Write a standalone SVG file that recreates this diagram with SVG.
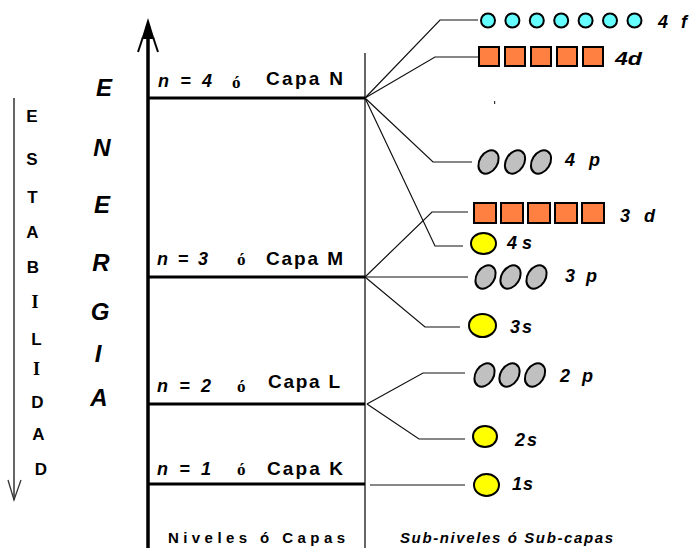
<svg xmlns="http://www.w3.org/2000/svg" width="696" height="548" viewBox="0 0 696 548">
<style>
.lvl{stroke:#000;stroke-width:3;fill:none}
.con{stroke:#111;stroke-width:1.2;fill:none}
.f{fill:#66FFFF;stroke:#000;stroke-width:2}
.d{fill:#FF8040;stroke:#000;stroke-width:2}
.p{fill:#C0C0C0;stroke:#000;stroke-width:2}
.s{fill:#FFFF00;stroke:#000;stroke-width:2}
.en{font-family:"Liberation Sans",Arial,sans-serif;font-weight:bold;font-style:italic;font-size:24px;text-anchor:middle}
.st{font-family:"Liberation Sans",Arial,sans-serif;font-weight:bold;font-size:17px;text-anchor:middle}
.sti{font-family:"Liberation Serif","Times New Roman",serif;font-weight:bold;font-size:18px;text-anchor:middle}
.n{font-family:"Liberation Sans",Arial,sans-serif;font-weight:bold;font-style:italic;font-size:18px}
.o{font-family:"Liberation Serif","Times New Roman",serif;font-weight:bold;font-size:17px}
.cap{font-family:"Liberation Sans",Arial,sans-serif;font-weight:bold;font-size:19px}
.sl{font-family:"Liberation Sans",Arial,sans-serif;font-weight:bold;font-style:italic;font-size:18px}
.bt{font-family:"Liberation Sans",Arial,sans-serif;font-weight:bold;font-size:15px}
.bti{font-family:"Liberation Sans",Arial,sans-serif;font-weight:bold;font-style:italic;font-size:15px}
</style>

<g id="axis-energia">
<line x1="148" y1="36" x2="148" y2="548" stroke="#000" stroke-width="3.5"/>
<polygon points="148,18 141.5,39 154.5,39" fill="#000"/>
<line x1="143" y1="37" x2="138" y2="52" stroke="#000" stroke-width="2"/>
<line x1="153" y1="37" x2="158" y2="52" stroke="#000" stroke-width="2"/>
<text class="en" x="104" y="96">E</text>
<text class="en" x="102" y="156">N</text>
<text class="en" x="102" y="213">E</text>
<text class="en" x="101" y="271">R</text>
<text class="en" x="100" y="320">G</text>
<text class="en" x="98" y="362">I</text>
<text class="en" x="99" y="406">A</text>
</g>

<g id="axis-estabilidad">
<line x1="14" y1="98" x2="14" y2="500" stroke="#333" stroke-width="1.5"/>
<polyline points="8,480 14,500 21,480" fill="none" stroke="#333" stroke-width="1.3"/>
<text class="st" x="32" y="122">E</text>
<text class="st" x="32" y="165">S</text>
<text class="st" x="32.5" y="203">T</text>
<text class="st" x="32.5" y="238">A</text>
<text class="st" x="33" y="273">B</text>
<text class="sti" x="35" y="308">I</text>
<text class="st" x="36.5" y="345">L</text>
<text class="sti" x="36.5" y="375">I</text>
<text class="st" x="37.5" y="408">D</text>
<text class="st" x="38.5" y="440">A</text>
<text class="st" x="41" y="475">D</text>
</g>

<line id="divider" x1="365" y1="53" x2="365" y2="548" stroke="#333" stroke-width="1.5"/>

<g id="level-N">
<line class="lvl" x1="148" y1="98" x2="365" y2="98"/>
<text class="n" x="158" y="87" textLength="54" lengthAdjust="spacing">n = 4</text>
<text class="o" x="232" y="88">ó</text>
<text class="cap" x="266" y="85" textLength="77" lengthAdjust="spacing">Capa N</text>
</g>
<g id="level-M">
<line class="lvl" x1="148" y1="277" x2="365" y2="277"/>
<text class="n" x="157" y="265" textLength="51" lengthAdjust="spacing">n = 3</text>
<text class="o" x="237" y="265">ó</text>
<text class="cap" x="266" y="265" textLength="77" lengthAdjust="spacing">Capa M</text>
</g>
<g id="level-L">
<line class="lvl" x1="148" y1="404" x2="365" y2="404"/>
<text class="n" x="157" y="392" textLength="54" lengthAdjust="spacing">n = 2</text>
<text class="o" x="237" y="392">ó</text>
<text class="cap" x="268" y="388" textLength="72" lengthAdjust="spacing">Capa L</text>
</g>
<g id="level-K">
<line class="lvl" x1="148" y1="484" x2="365" y2="484"/>
<text class="n" x="157" y="475" textLength="54" lengthAdjust="spacing">n = 1</text>
<text class="o" x="237" y="475">ó</text>
<text class="cap" x="267" y="475" textLength="76" lengthAdjust="spacing">Capa K</text>
</g>

<g id="connectors">
<polyline class="con" points="365,98 440,20 478,20"/>
<polyline class="con" points="365,98 435,57 478,57"/>
<polyline class="con" points="365,98 433,162 472,162"/>
<polyline class="con" points="365,98 435,246 463,246"/>
<polyline class="con" points="365,277 432,212 468,212"/>
<polyline class="con" points="365,277 468,277"/>
<polyline class="con" points="365,277 425,327 460,327"/>
<polyline class="con" points="367,404 423,373 465,373"/>
<polyline class="con" points="367,404 419,439 465,439"/>
<polyline class="con" points="370,485 465,485"/>
</g>

<g id="sub-4f">
<circle class="f" cx="488" cy="20.5" r="7"/>
<circle class="f" cx="512.4" cy="20.5" r="7"/>
<circle class="f" cx="536.8" cy="20.5" r="7"/>
<circle class="f" cx="561.2" cy="20.5" r="7"/>
<circle class="f" cx="585.6" cy="20.5" r="7"/>
<circle class="f" cx="610" cy="20.5" r="7"/>
<circle class="f" cx="634.5" cy="20.5" r="7"/>
<text class="sl" x="658" y="28" textLength="29" lengthAdjust="spacing">4 f</text>
</g>
<g id="sub-4d">
<rect class="d" x="479" y="47" width="20" height="19"/>
<rect class="d" x="505" y="47" width="20" height="19"/>
<rect class="d" x="531" y="47" width="20" height="19"/>
<rect class="d" x="557" y="47" width="20" height="19"/>
<rect class="d" x="583" y="47" width="20" height="19"/>
<text class="sl" x="615" y="65" style="font-size:19px" textLength="27" lengthAdjust="spacingAndGlyphs">4d</text>
</g>
<rect id="dot" x="494" y="101" width="1.2" height="3" fill="#333"/>
<g id="sub-4p">
<ellipse class="p" cx="488.5" cy="162" rx="9" ry="12.5" transform="rotate(32 488.5 162)"/>
<ellipse class="p" cx="515" cy="162" rx="9" ry="12.5" transform="rotate(32 515 162)"/>
<ellipse class="p" cx="541" cy="162" rx="9" ry="12.5" transform="rotate(32 541 162)"/>
<text class="sl" x="565" y="166" textLength="35" lengthAdjust="spacing">4 p</text>
</g>
<g id="sub-3d">
<rect class="d" x="474" y="203" width="22" height="20"/>
<rect class="d" x="501" y="203" width="22" height="20"/>
<rect class="d" x="528" y="203" width="22" height="20"/>
<rect class="d" x="555" y="203" width="22" height="20"/>
<rect class="d" x="582" y="203" width="22" height="20"/>
<text class="sl" x="620" y="222" textLength="35" lengthAdjust="spacing">3 d</text>
</g>
<g id="sub-4s">
<ellipse class="s" cx="483.5" cy="243.5" rx="12.5" ry="10.5"/>
<text class="sl" x="507" y="249" textLength="25" lengthAdjust="spacing">4s</text>
</g>
<g id="sub-3p">
<ellipse class="p" cx="485.5" cy="277" rx="9" ry="12.5" transform="rotate(32 485.5 277)"/>
<ellipse class="p" cx="510.5" cy="277" rx="9" ry="12.5" transform="rotate(32 510.5 277)"/>
<ellipse class="p" cx="536.5" cy="277" rx="9" ry="12.5" transform="rotate(32 536.5 277)"/>
<text class="sl" x="565" y="282" textLength="32" lengthAdjust="spacing">3 p</text>
</g>
<g id="sub-3s">
<ellipse class="s" cx="482.5" cy="325.5" rx="13.5" ry="11.5"/>
<text class="sl" x="510" y="333" textLength="22" lengthAdjust="spacing">3s</text>
</g>
<g id="sub-2p">
<ellipse class="p" cx="484.5" cy="375" rx="9" ry="12.5" transform="rotate(32 484.5 375)"/>
<ellipse class="p" cx="509.5" cy="375" rx="9" ry="12.5" transform="rotate(32 509.5 375)"/>
<ellipse class="p" cx="535" cy="375" rx="9" ry="12.5" transform="rotate(32 535 375)"/>
<text class="sl" x="560" y="382" textLength="33" lengthAdjust="spacing">2 p</text>
</g>
<g id="sub-2s">
<ellipse class="s" cx="485" cy="436.5" rx="12" ry="10.5"/>
<text class="sl" x="515" y="446" textLength="22" lengthAdjust="spacing">2s</text>
</g>
<g id="sub-1s">
<ellipse class="s" cx="486.5" cy="485" rx="12.5" ry="11"/>
<text class="sl" x="512" y="490" textLength="21" lengthAdjust="spacing">1s</text>
</g>

<g id="footer">
<text class="bt" x="168" y="543" textLength="177" lengthAdjust="spacing">Niveles ó Capas</text>
<text class="bti" x="400" y="543" textLength="213" lengthAdjust="spacing">Sub-niveles  ó  Sub-capas</text>
</g>
</svg>
